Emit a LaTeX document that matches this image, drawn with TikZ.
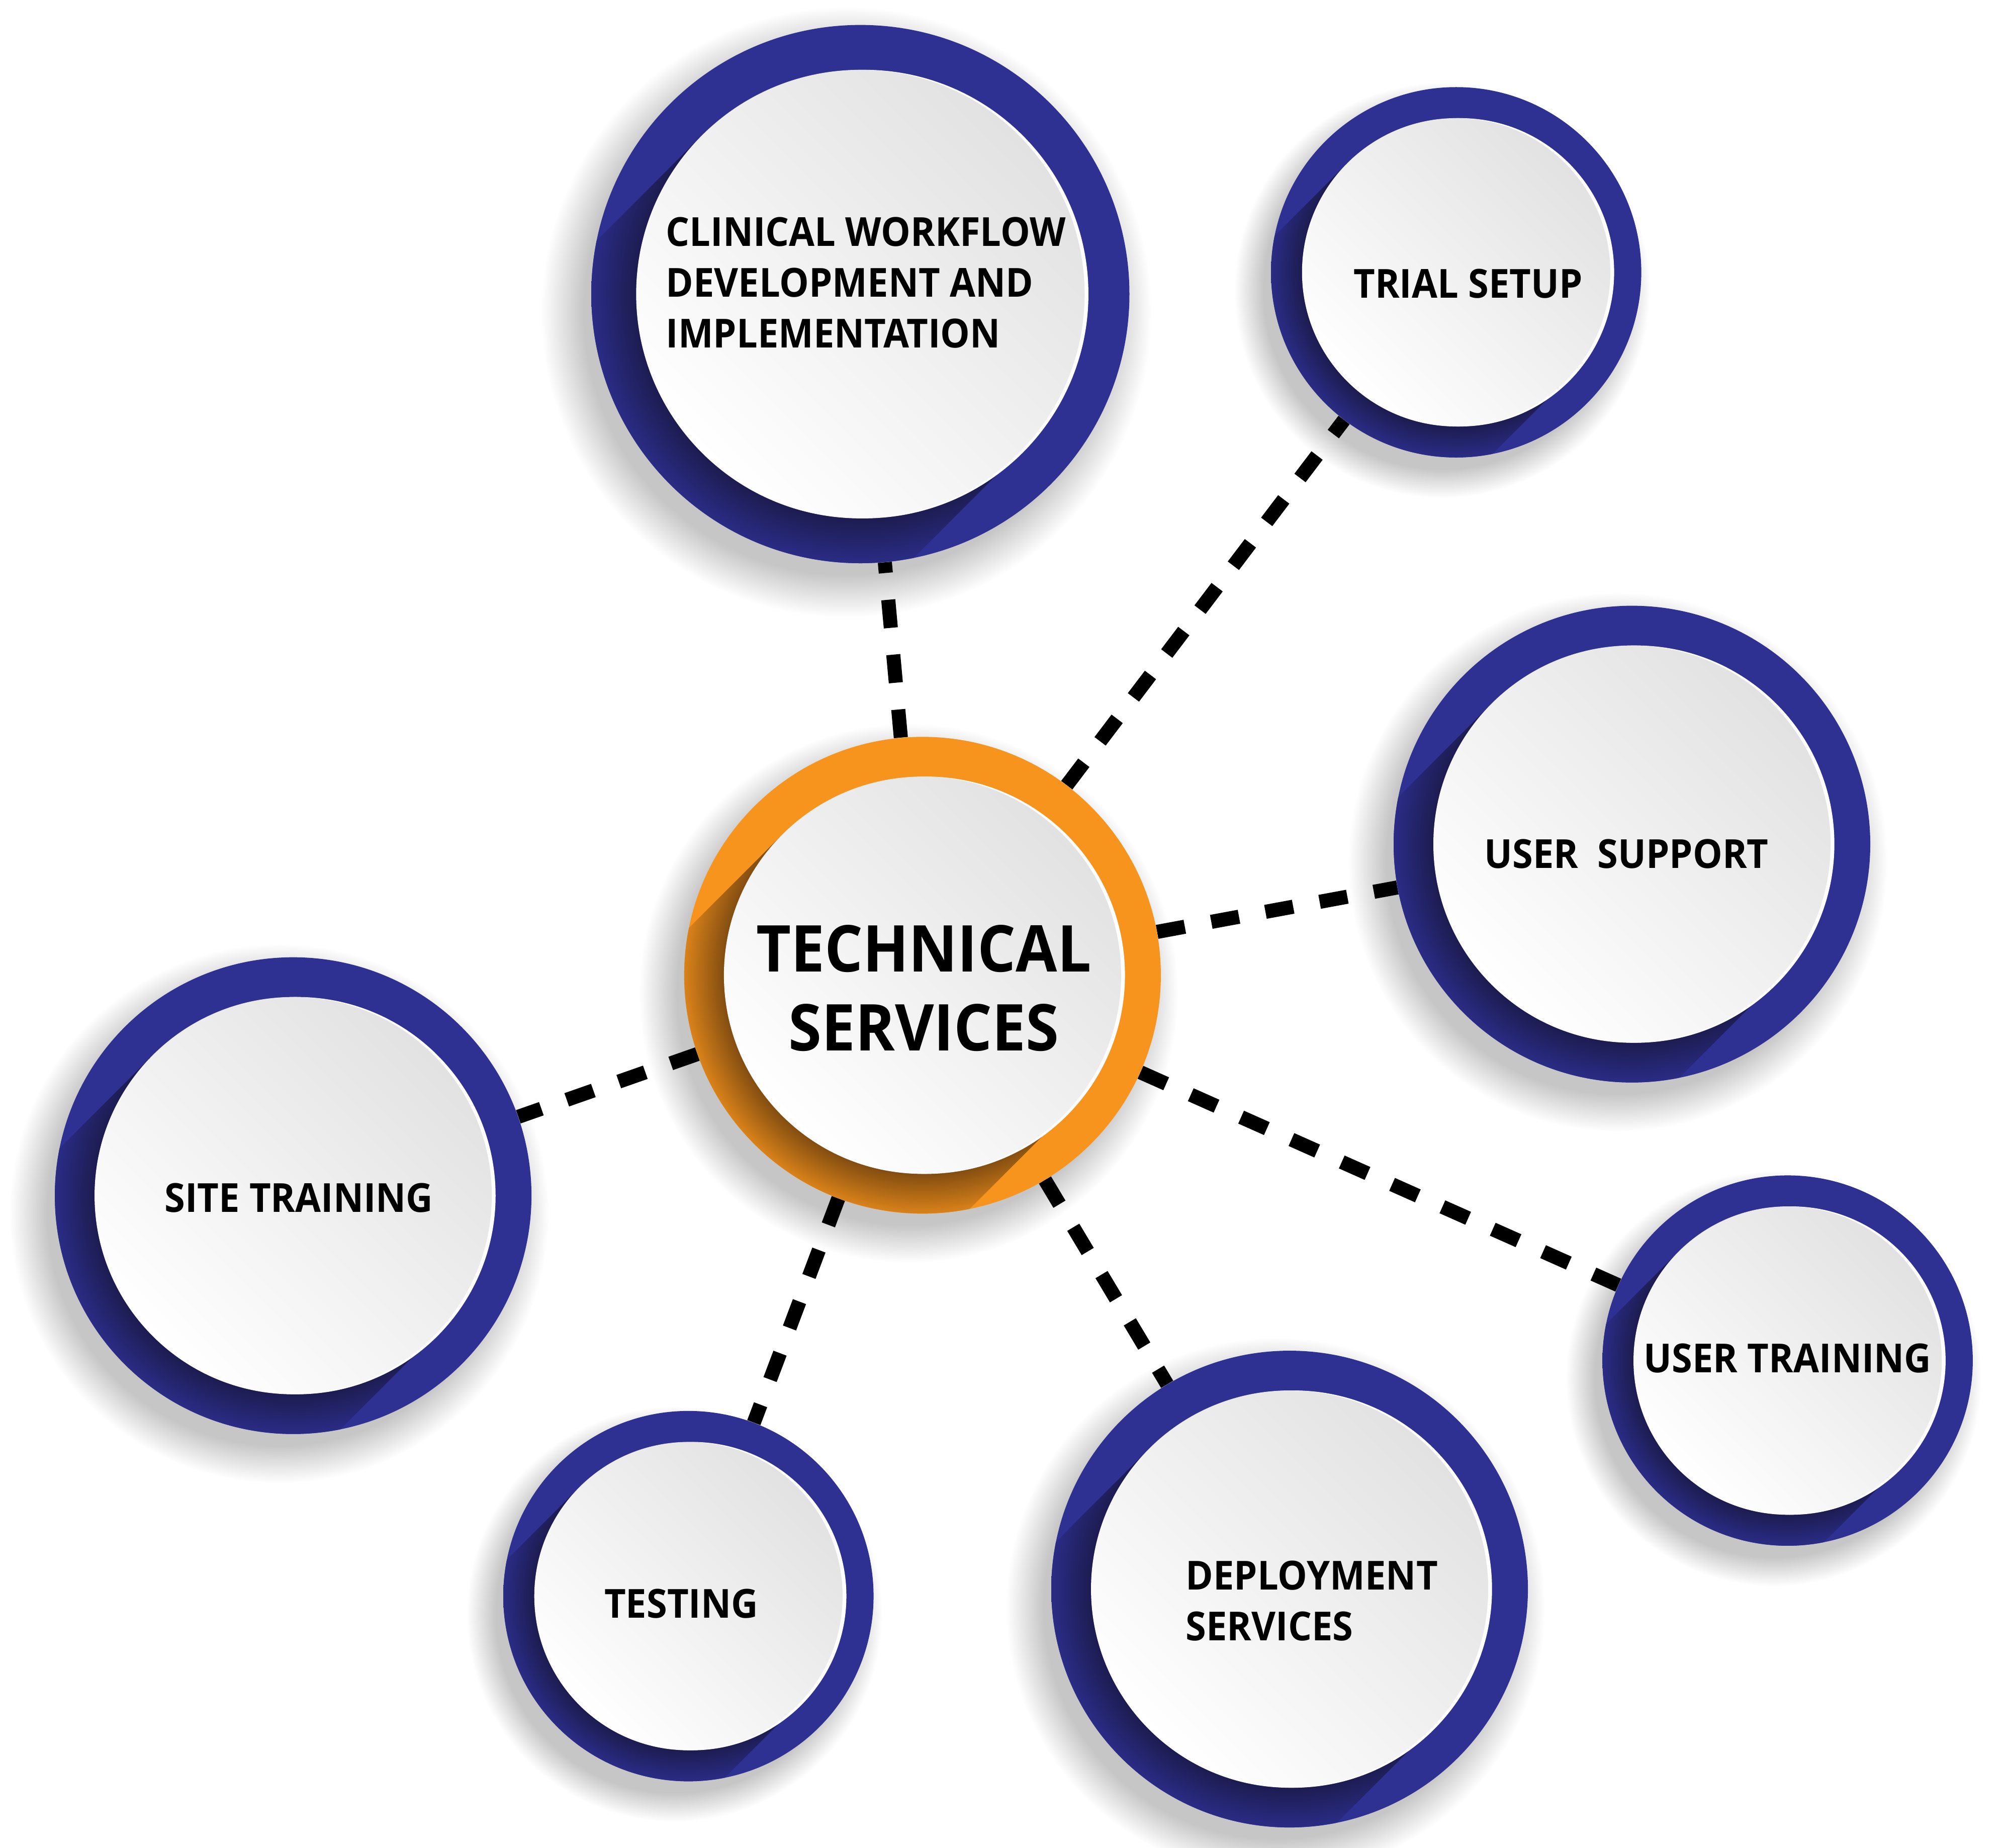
\documentclass[tikz,border=0pt]{standalone}
\usepackage{fontspec}
\setmainfont{Open Sans}[FakeStretch=0.93]
\usetikzlibrary{calc}
\definecolor{ringblue}{HTML}{2E3192}
\definecolor{ringorange}{HTML}{F7941D}
\definecolor{bshd}{HTML}{1C1B4E}
\definecolor{bshdout}{HTML}{2A2C85}
\definecolor{oshd}{HTML}{7E4A10}
\definecolor{oshdout}{HTML}{D9821A}
\definecolor{innertop}{HTML}{E2E2E2}
\definecolor{innerbot}{HTML}{FFFFFF}
\definecolor{sgray}{HTML}{C6C6C6}
\pgfdeclareradialshading{blueshadow}{\pgfpoint{0bp}{0bp}}{color(0bp)=(bshd); color(20.6bp)=(bshd); color(25bp)=(bshdout); color(50bp)=(bshdout)}
\pgfdeclareradialshading{orangeshadow}{\pgfpoint{0bp}{0bp}}{color(0bp)=(oshd); color(20.6bp)=(oshd); color(25bp)=(oshdout); color(50bp)=(oshdout)}
\pgfdeclareradialshading{softshadow}{\pgfpoint{0bp}{0bp}}{color(0bp)=(sgray); color(21.5bp)=(sgray); color(25bp)=(white); color(50bp)=(white)}
\pgfdeclarelayer{paper}
\pgfdeclarelayer{shadowlayer}
\pgfdeclarelayer{linelayer}
\pgfsetlayers{paper,shadowlayer,linelayer,main}
\tikzset{
  lbl/.style={font=\bfseries\fontsize{31.2pt}{36pt}\selectfont, inner sep=0pt, text=black},
  biglbl/.style={font=\bfseries\fontsize{50.4pt}{60pt}\selectfont, inner sep=0pt, text=black},
  conn/.style={line width=11pt, dash pattern=on 22pt off 21pt, black},
  holder/.style={circle, inner sep=0pt, draw=none}
}
% name, x, y, R, r, ring colour, ring shadow shading
\newcommand\svcring[7]{%
  \node[holder, minimum size={2*#4pt}] (#1) at (#2,#3) {};
  \begin{pgfonlayer}{shadowlayer}
    \shade[shading=softshadow] (#2-11,#3-14) circle ({(#4-5)/0.86});
  \end{pgfonlayer}
  \begin{scope}[shift={(#2,#3)}]
    \fill[#6] (0,0) circle (#4);
    \begin{scope}
      \clip (0,0) circle (#4);
      \clip (135:#5) -- ++(225:400) -- ++(315:2*#5) -- (315:#5) -- cycle;
      \shade[shading=#7] (0,0) circle (#4);
    \end{scope}
    \fill[white] (3,0) circle (#5);
    \shade[top color=innertop, bottom color=innerbot, shading angle=-45] (0,0) circle (#5);
  \end{scope}
}
\begin{document}
\begin{tikzpicture}[x=1pt,y=1pt]
\useasboundingbox (0,0) rectangle (1568,1442);
\begin{pgfonlayer}{paper}
  \fill[white] (0,0) rectangle (1568,1442);
\end{pgfonlayer}

\svcring{ts}{720}{681}{186}{155}{ringorange}{orangeshadow}
\svcring{cw}{671.5}{1212.5}{210}{175}{ringblue}{blueshadow}
\svcring{tr}{1136.5}{1229.5}{144.5}{120.3}{ringblue}{blueshadow}
\svcring{us}{1273.7}{783.3}{186}{155}{ringblue}{blueshadow}
\svcring{st}{228.8}{509}{186}{155}{ringblue}{blueshadow}
\svcring{te}{537.3}{196.5}{144.5}{120.3}{ringblue}{blueshadow}
\svcring{ds}{1006.5}{202}{186}{155}{ringblue}{blueshadow}
\svcring{ut}{1395.2}{380.3}{144.5}{120.3}{ringblue}{blueshadow}

\begin{pgfonlayer}{linelayer}
  \draw[conn] (ts) -- (cw);
  \draw[conn] (ts) -- (tr);
  \draw[conn] (ts) -- (us);
  \draw[conn] (ts) -- (st);
  \draw[conn] (ts) -- (te);
  \draw[conn] (ts) -- (ds);
  \draw[conn] (ts) -- (ut);
\end{pgfonlayer}

\node[biglbl, anchor=base] (ts1) at (721,683.7) {TECHNICAL};
\node[biglbl, anchor=base] (ts2) at (721,622) {SERVICES};
\node[lbl, anchor=base west] (cw1) at (519.6,1249.8) {CLINICAL WORKFLOW};
\node[lbl, anchor=base west] (cw2) at (519.6,1210.3) {DEVELOPMENT AND};
\node[lbl, anchor=base west] (cw3) at (519.6,1170.6) {IMPLEMENTATION};
\node[lbl, anchor=base] (tr1) at (1145.8,1209.4) {TRIAL SETUP};
\node[lbl, anchor=base] (us1) at (1269.4,764.5) {USER\ \ SUPPORT};
\node[lbl, anchor=base] (st1) at (233.3,496) {SITE TRAINING};
\node[lbl, anchor=base] (te1) at (531.7,179.6) {TESTING};
\node[lbl, anchor=base west] (ds1) at (925.3,201.3) {DEPLOYMENT};
\node[lbl, anchor=base west] (ds2) at (925.3,161.8) {SERVICES};
\node[lbl, anchor=base] (ut1) at (1395.2,370.8) {USER TRAINING};
\end{tikzpicture}
\end{document}
